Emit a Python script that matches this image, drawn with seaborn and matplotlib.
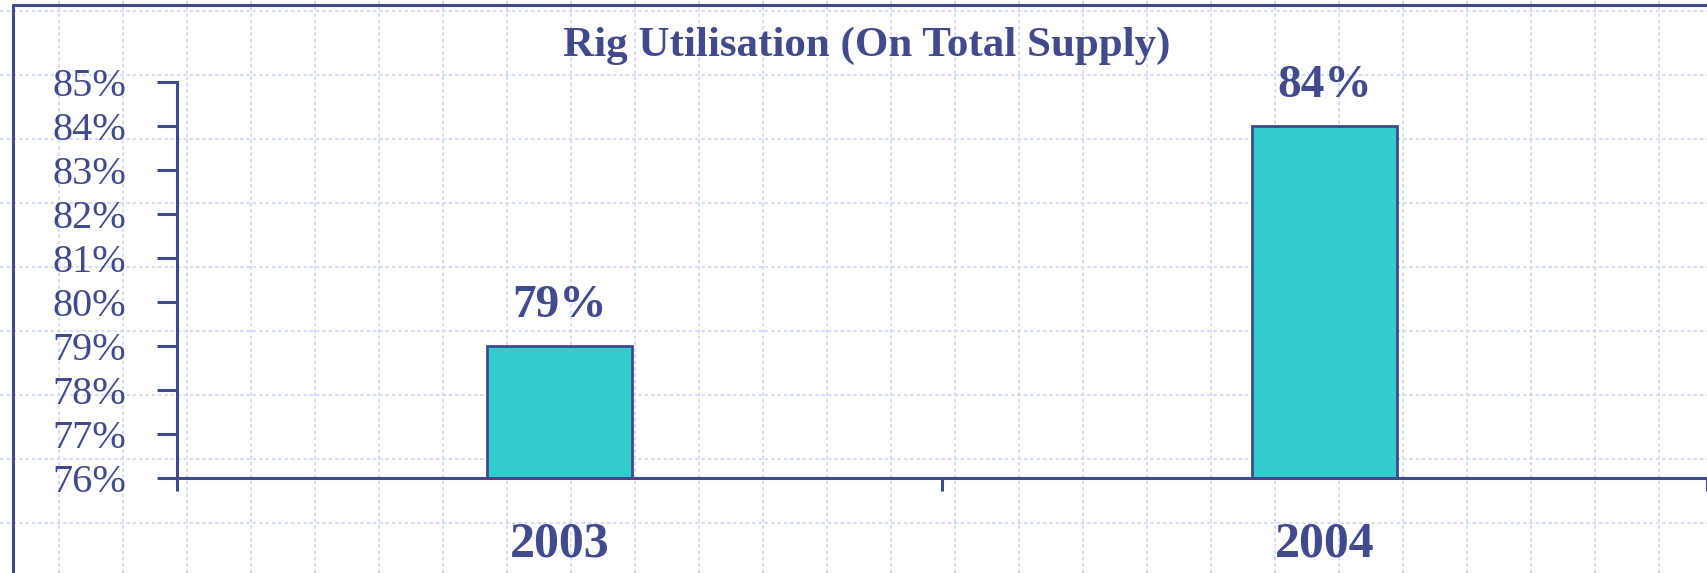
import numpy as np
import pandas as pd
import seaborn as sns
import matplotlib.pyplot as plt
from matplotlib.lines import Line2D

# data
years = ['2003', '2004']
utilisation = [79, 84]
y_ticks = list(range(76, 86))
title = 'Rig Utilisation (On Total Supply)'

navy = '#404A8C'
teal = '#33CCCC'
grid_blue = '#CFDAF7'

sns.set_theme(style='white')
plt.rcParams['font.family'] = ['Liberation Serif', 'DejaVu Serif']

W, H = 1707, 573
fig = plt.figure(figsize=(W / 100, H / 100), dpi=100)
fig.patch.set_facecolor('white')

# background paper grid, every 64 px
for x in np.arange(59, W, 64):
    fig.add_artist(Line2D([x / W, x / W], [0, 1], transform=fig.transFigure,
                          color=grid_blue, lw=1.3, ls=(0, (2, 1.5)), zorder=0))
for y in np.arange(11, H, 64):
    fig.add_artist(Line2D([0, 1], [1 - y / H, 1 - y / H], transform=fig.transFigure,
                          color=grid_blue, lw=1.3, ls=(0, (2, 1.5)), zorder=0))

# outer frame (left and top)
fig.add_artist(Line2D([13 / W, 13 / W], [0, 1 - 5 / H], transform=fig.transFigure,
                      color=navy, lw=2.2, zorder=1))
fig.add_artist(Line2D([13 / W, 1], [1 - 5 / H, 1 - 5 / H], transform=fig.transFigure,
                      color=navy, lw=2.2, zorder=1))

ax = fig.add_axes([177 / W, 1 - 478 / H, (W - 177) / W, (478 - 82) / H])
ax.patch.set_alpha(0)

df = pd.DataFrame({'year': years, 'value': utilisation})
sns.barplot(data=df, x='year', y='value', color=teal, saturation=1,
            width=0.19, edgecolor=navy, linewidth=2, ax=ax, zorder=3)

ax.set_ylim(76, 85)
ax.set_xlim(-0.5, 1.5)
ax.set_yticks(y_ticks)
ax.set_yticklabels([f'{t}%' for t in y_ticks], fontsize=29, color=navy)
ax.tick_params(axis='y', length=14.4, width=2.2, color=navy, pad=22, left=True)

ax.set_xticks(range(len(years)))
ax.set_xticklabels(years, fontsize=36, fontweight='bold', color=navy)
ax.tick_params(axis='x', which='major', length=0, pad=31)
ax.set_xticks([-0.5, 0.5, 1.5], minor=True)
ax.tick_params(axis='x', which='minor', length=9.5, width=2.2, color=navy,
               direction='out', bottom=True)

for s in ['top', 'right']:
    ax.spines[s].set_visible(False)
for s in ['left', 'bottom']:
    ax.spines[s].set_color(navy)
    ax.spines[s].set_linewidth(2.2)
    ax.spines[s].set_zorder(4)

ax.set_xlabel('')
ax.set_ylabel('')

for i, v in enumerate(utilisation):
    ax.text(i, v + 0.9, f'{v}%', ha='center', va='center', fontsize=34,
            fontweight='bold', color=navy, clip_on=False)

fig.text(867 / W, 1 - 46 / H, title, ha='center', va='center', fontsize=31,
         fontweight='bold', color=navy)

fig.savefig('out.png', dpi=100)
